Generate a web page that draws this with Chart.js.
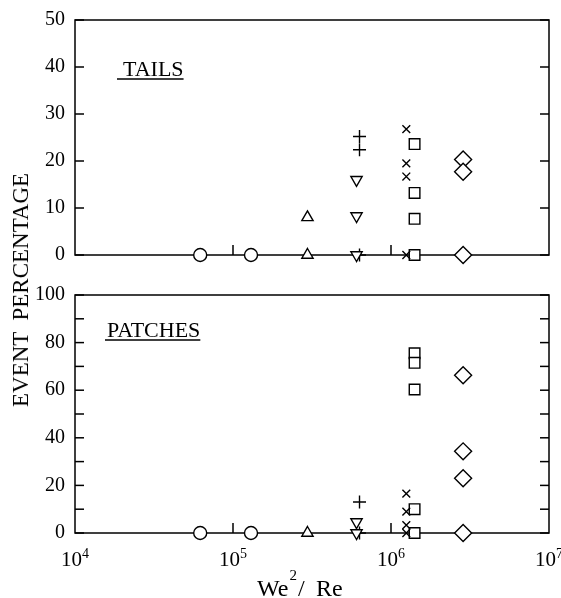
<!DOCTYPE html>
<html>
<head>
<meta charset="utf-8">
<script src="https://cdn.jsdelivr.net/npm/chart.js@4.4.1/dist/chart.umd.min.js"></script>
<style>
    html, body { margin: 0; padding: 0; background: #fff; }
    #wrap { position: relative; width: 561px; height: 598px; }
    #c-tails { position: absolute; left: 0; top: 0; }
    #c-patches { position: absolute; left: 0; top: 275px; }
    #ytitle {
        position: absolute; left: 21px; top: 290px;
        transform: translate(-50%, -50%) rotate(-90deg);
        font: 23px 'Liberation Serif', serif; white-space: pre; color: #000;
    }
</style>
</head>
<body>
<div id="wrap">
    <canvas id="c-tails" width="561" height="275"></canvas>
    <canvas id="c-patches" width="561" height="323"></canvas>
    <div id="ytitle">EVENT  PERCENTAGE</div>
</div>
<script>
// ── Data ─────────────────────────────────────────────────
// one marker group per x position (We^2/Re)
const markerKinds = ['circle', 'circle', 'triUp', 'triDown', 'plus', 'cross', 'square', 'diamond'];
const markerX     = [6.2e4, 1.3e5, 2.96e5, 6.05e5, 6.32e5, 1.25e6, 1.41e6, 2.86e6];

// event percentages, TAILS panel
const tailsY = [
    [0], [0], [8, 0], [16, 8.3, 0], [25.2, 22.4, 0],
    [26.8, 19.5, 16.7, 0], [23.6, 13.2, 7.7, 0], [20.3, 17.7, 0]
];
// event percentages, PATCHES panel
const patchesY = [
    [0], [0], [0], [4.6, 0], [13, 0],
    [16.5, 9, 3.3, 0], [75.5, 71.5, 60.3, 10, 0], [66.3, 34.3, 23, 0]
];

const xTickExp = [4, 5, 6, 7];
const tailsTicks = [0, 10, 20, 30, 40, 50];
const patchesTicks = [0, 20, 40, 60, 80, 100];

// ── Styles ───────────────────────────────────────────────
const serif = "'Liberation Serif', 'Times New Roman', serif";
const markerStyles = {
    circle:  { pointStyle: 'circle',   pointRadius: 6.5 },
    triUp:   { pointStyle: 'triangle', pointRadius: 6.5 },
    triDown: { pointStyle: 'triangle', pointRadius: 6.5, pointRotation: 180 },
    plus:    { pointStyle: 'cross',    pointRadius: 6.5 },
    cross:   { pointStyle: 'crossRot', pointRadius: 5.5 },
    square:  { pointStyle: 'rect',     pointRadius: 7.5 },
    diamond: { pointStyle: 'rectRot',  pointRadius: 8.5 },
};

function buildSets(panelY) {
    return markerX.map((x, i) => ({
        data: panelY[i].map(y => ({ x, y })),
        ...markerStyles[markerKinds[i]],
        backgroundColor: '#fff',
        borderColor: '#000',
        pointBackgroundColor: '#fff',
        pointBorderColor: '#000',
        pointBorderWidth: 1.4,
        showLine: false,
        clip: false,
    }));
}

function line(ctx, x1, y1, x2, y2) {
    ctx.beginPath();
    ctx.moveTo(x1, y1);
    ctx.lineTo(x2, y2);
    ctx.stroke();
}

// box frame + inward ticks, drawn under the markers
const framePlugin = {
    id: 'frame',
    beforeDatasetsDraw(chart) {
        const { ctx, chartArea: a, scales: { x, y } } = chart;
        ctx.save();
        ctx.strokeStyle = '#000';
        ctx.lineWidth = 1.5;
        ctx.strokeRect(a.left, a.top, a.right - a.left, a.bottom - a.top);
        y.ticks.forEach(t => {
            const py = y.getPixelForValue(t.value);
            line(ctx, a.left, py, a.left + 9, py);
            line(ctx, a.right - 9, py, a.right, py);
        });
        xTickExp.forEach(e => {
            const px = x.getPixelForValue(10 ** e);
            if (px > a.left + 1 && px < a.right - 1) line(ctx, px, a.bottom, px, a.bottom - 10);
        });
        ctx.restore();
    },
    afterDraw(chart, args, opts) {
        const { ctx, chartArea: a, scales: { x } } = chart;
        ctx.save();
        ctx.fillStyle = '#000';
        ctx.strokeStyle = '#000';
        ctx.textBaseline = 'alphabetic';

        // panel label, underlined
        if (opts.label) {
            ctx.font = '22px ' + serif;
            const lx = a.left + opts.dx, ly = a.top + opts.dy;
            ctx.fillText(opts.label, lx, ly);
            const w = ctx.measureText(opts.label).width;
            ctx.lineWidth = 1.6;
            line(ctx, lx - opts.ulPad, ly + 3, lx + w, ly + 3);
        }

        // x tick labels 10^n and axis title on the lower panel
        if (opts.xLabels) {
            xTickExp.forEach(e => {
                const px = x.getPixelForValue(10 ** e);
                ctx.font = '21px ' + serif;
                const wb = ctx.measureText('10').width;
                ctx.font = '14px ' + serif;
                const we = ctx.measureText(String(e)).width;
                const x0 = px - (wb + we) / 2;
                ctx.font = '21px ' + serif;
                ctx.fillText('10', x0, a.bottom + 33);
                ctx.font = '14px ' + serif;
                ctx.fillText(String(e), x0 + wb, a.bottom + 25);
            });
            ctx.font = '24px ' + serif;
            let tx = 257;
            ctx.fillText('We', tx, a.bottom + 63);
            tx += ctx.measureText('We').width + 1;
            ctx.font = '15px ' + serif;
            ctx.fillText('2', tx, a.bottom + 47);
            tx += ctx.measureText('2').width + 1;
            ctx.font = '24px ' + serif;
            ctx.fillText('/', tx, a.bottom + 63);
            ctx.fillText('Re', tx + 18, a.bottom + 63);
        }
        ctx.restore();
    }
};

function makeChart(id, panelY, yMax, yTicks, xHeight, padTop, frameOpts) {
    const ctx = document.getElementById(id).getContext('2d');
    return new Chart(ctx, {
        type: 'scatter',
        data: { datasets: buildSets(panelY) },
        options: {
            responsive: false,
            animation: false,
            events: [],
            layout: { padding: { top: padTop, right: 12, left: 0, bottom: 0 } },
            scales: {
                x: {
                    type: 'logarithmic',
                    min: 10 ** xTickExp[0],
                    max: 10 ** xTickExp[xTickExp.length - 1],
                    ticks: { display: false },
                    grid: { display: false, drawTicks: false },
                    border: { display: false },
                    afterFit: s => { s.height = xHeight; },
                },
                y: {
                    min: 0,
                    max: yMax,
                    ticks: {
                        stepSize: 10,
                        padding: 10,
                        color: '#000',
                        font: { family: serif, size: 20, lineHeight: 1 },
                        callback: v => (yTicks.includes(v) ? String(v) : ''),
                    },
                    grid: { display: false, drawTicks: false },
                    border: { display: false },
                    afterFit: s => { s.width = 75; },
                },
            },
            plugins: {
                legend: { display: false },
                tooltip: { enabled: false },
                frame: frameOpts,
            },
        },
        plugins: [framePlugin],
    });
}

makeChart('c-tails', tailsY, 50, tailsTicks, 12, 16.5,
    { label: 'TAILS', dx: 48, dy: 56, ulPad: 6 });
makeChart('c-patches', patchesY, 100, patchesTicks, 65, 12,
    { label: 'PATCHES', dx: 32, dy: 42, ulPad: 2, xLabels: true });
</script>
</body>
</html>
